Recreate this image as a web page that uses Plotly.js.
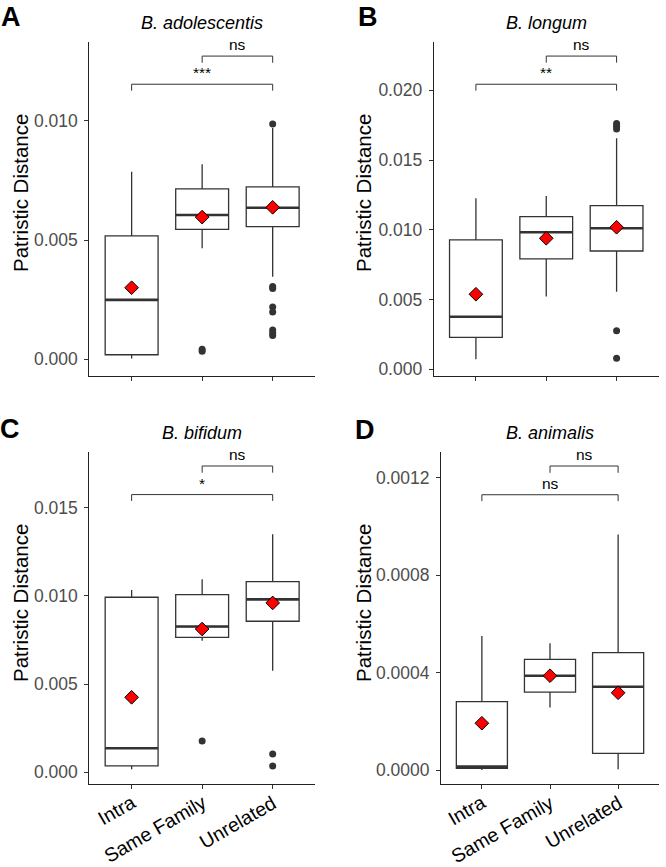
<!DOCTYPE html>
<html><head><meta charset="utf-8">
<script src="https://cdn.plot.ly/plotly-3.0.1.min.js"></script>
<style>html,body{margin:0;padding:0;background:#fff}#chart{width:666px;height:867px}</style>
</head><body><div id="chart"></div>
<script>
const categories = ["Intra", "Same Family", "Unrelated"];
const catPos = [1, 2, 3];
const panelLetters = ["A", "B", "C", "D"];
const species = ["B. adolescentis", "B. longum", "B. bifidum", "B. animalis"];

// Panel A: B. adolescentis
const adoLower  = [0.00003, 0.00465, 0.00346];
const adoQ1     = [0.00019, 0.00545, 0.00556];
const adoMedian = [0.00249, 0.00605, 0.00635];
const adoQ3     = [0.00517, 0.00714, 0.00723];
const adoUpper  = [0.00786, 0.00818, 0.00970];
const adoMean   = [0.00300, 0.00596, 0.00637];
const adoOutGroup = [2, 2, 3, 3, 3, 3, 3, 3, 3, 3];
const adoOutValue = [0.00042, 0.00034, 0.00986, 0.00305, 0.00297, 0.00219, 0.00198, 0.00123, 0.00110, 0.00100];

// Panel B: B. longum
const lonLower  = [0.00072, 0.00521, 0.00556];
const lonQ1     = [0.00229, 0.00791, 0.00848];
const lonMedian = [0.00377, 0.00982, 0.01011];
const lonQ3     = [0.00927, 0.01094, 0.01173];
const lonUpper  = [0.01226, 0.01242, 0.01656];
const lonMean   = [0.00538, 0.00939, 0.01018];
const lonOutGroup = [3, 3, 3, 3, 3];
const lonOutValue = [0.01762, 0.01742, 0.01722, 0.00277, 0.00079];

// Panel C: B. bifidum
const bifLower  = [0.00017, 0.00746, 0.00576];
const bifQ1     = [0.00036, 0.00765, 0.00856];
const bifMedian = [0.00136, 0.00826, 0.00980];
const bifQ3     = [0.00992, 0.01007, 0.01081];
const bifUpper  = [0.01033, 0.01094, 0.01349];
const bifMean   = [0.00425, 0.00812, 0.00960];
const bifOutGroup = [2, 3, 3];
const bifOutValue = [0.00178, 0.00104, 0.00036];

// Panel D: B. animalis
const aniLower  = [0.0000000, 0.000257, 0.0000027];
const aniQ1     = [0.0000068, 0.000320, 0.0000684];
const aniMedian = [0.0000137, 0.000387, 0.000342];
const aniQ3     = [0.000281, 0.000454, 0.000482];
const aniUpper  = [0.000550, 0.000520, 0.000967];
const aniMean   = [0.000192, 0.000387, 0.000317];
const aniOutGroup = [];
const aniOutValue = [];

// Significance brackets: from group, to group, bracket level, tip end, label
const sigFrom  = [[2, 1], [2, 1], [2, 1], [2, 1]];
const sigTo    = [[3, 3], [3, 3], [3, 3], [3, 3]];
const sigLevel = [[0.01271, 0.01153], [0.02245, 0.02043], [0.01736, 0.01574], [0.001248, 0.00113]];
const sigTip   = [[0.01243, 0.01126], [0.02198, 0.01997], [0.01698, 0.01538], [0.001220, 0.001104]];
const sigLabel = [["ns", "***"], ["ns", "**"], ["ns", "*"], ["ns", "ns"]];

const yRanges = [[-0.0007, 0.0133], [-0.00048, 0.02348], [-0.00068, 0.01817], [-0.0000587, 0.0013067]];
const yDtick = [0.005, 0.005, 0.005, 0.0004];
const yFormat = [".3f", ".3f", ".3f", ".4f"];

const panels = [
  {lower: adoLower, q1: adoQ1, med: adoMedian, q3: adoQ3, upper: adoUpper, mean: adoMean, og: adoOutGroup, ov: adoOutValue},
  {lower: lonLower, q1: lonQ1, med: lonMedian, q3: lonQ3, upper: lonUpper, mean: lonMean, og: lonOutGroup, ov: lonOutValue},
  {lower: bifLower, q1: bifQ1, med: bifMedian, q3: bifQ3, upper: bifUpper, mean: bifMean, og: bifOutGroup, ov: bifOutValue},
  {lower: aniLower, q1: aniQ1, med: aniMedian, q3: aniQ3, upper: aniUpper, mean: aniMean, og: aniOutGroup, ov: aniOutValue}
];

const W = 666, H = 867;
// plot area boxes in pixels [left, right, top, bottom]
const boxes = [[89.3, 315, 42, 376], [433.7, 658.8, 41.7, 376], [89.3, 315, 451.7, 784.3], [441, 659, 451.7, 784.3]];
const FONT = "Liberation Sans, Arial, Helvetica, sans-serif";
const boxWidth = 0.75;

const traces = [];
const annotations = [];
const layout = {
  width: W, height: H,
  margin: {l: 0, r: 0, t: 0, b: 0},
  paper_bgcolor: "#fff", plot_bgcolor: "#fff",
  showlegend: false,
  font: {family: FONT},
  annotations: annotations
};

panels.forEach((p, i) => {
  const n = i + 1;
  const xa = n === 1 ? "x" : "x" + n;
  const ya = n === 1 ? "y" : "y" + n;
  const b = boxes[i];
  const xKey = n === 1 ? "xaxis" : "xaxis" + n;
  const yKey = n === 1 ? "yaxis" : "yaxis" + n;
  layout[xKey] = {
    domain: [b[0] / W, b[1] / W], anchor: ya, range: [0.4, 3.6],
    tickvals: catPos, showticklabels: false,
    ticks: "outside", ticklen: 4, tickcolor: "#333", tickwidth: 1,
    showline: true, linecolor: "#222", linewidth: 1, showgrid: false, zeroline: false,
    fixedrange: true
  };
  layout[yKey] = {
    domain: [1 - b[3] / H, 1 - b[2] / H], anchor: xa, range: yRanges[i],
    tick0: 0, dtick: yDtick[i], tickformat: yFormat[i],
    ticks: "outside", ticklen: 4, tickcolor: "#333", tickwidth: 1,
    ticklabelstandoff: 3,
    showline: true, linecolor: "#222", linewidth: 1, showgrid: false, zeroline: false,
    tickfont: {family: FONT, size: 17.5, color: "#4D4D4D"}, fixedrange: true
  };

  // rotated category labels (bottom row only)
  if (i >= 2) {
    categories.forEach((c, k) => {
      annotations.push({xref: xa, yref: "paper", x: catPos[k], y: 1 - 788 / H, xshift: 10,
        text: c, textangle: -30, showarrow: false, xanchor: "right", yanchor: "top",
        font: {family: FONT, size: 19.5, color: "#000"}});
    });
  }

  // box
  traces.push({
    type: "box", x: catPos, q1: p.q1, median: p.med, q3: p.q3,
    lowerfence: p.lower, upperfence: p.upper,
    xaxis: xa, yaxis: ya, width: boxWidth, whiskerwidth: 0,
    boxpoints: false, fillcolor: "#ffffff",
    line: {color: "#333333", width: 1.3}, hoverinfo: "skip"
  });
  // thick median lines
  const mx = [], my = [];
  catPos.forEach((c, k) => { mx.push(c - boxWidth / 2, c + boxWidth / 2, null); my.push(p.med[k], p.med[k], null); });
  traces.push({type: "scatter", mode: "lines", x: mx, y: my, xaxis: xa, yaxis: ya,
    line: {color: "#333333", width: 2.6}, hoverinfo: "skip"});
  // outliers
  if (p.ov.length) {
    traces.push({type: "scatter", mode: "markers", x: p.og, y: p.ov, xaxis: xa, yaxis: ya,
      marker: {color: "#333333", size: 7}, hoverinfo: "skip"});
  }
  // means
  traces.push({type: "scatter", mode: "markers", x: catPos, y: p.mean, xaxis: xa, yaxis: ya,
    marker: {symbol: "diamond", color: "#FF0000", size: 10.5, line: {color: "#000", width: 1}}, hoverinfo: "skip"});
  // significance brackets
  sigLevel[i].forEach((lv, k) => {
    const f = sigFrom[i][k], t = sigTo[i][k], tip = sigTip[i][k];
    traces.push({type: "scatter", mode: "lines", x: [f, f, t, t], y: [tip, lv, lv, tip],
      xaxis: xa, yaxis: ya, line: {color: "#333333", width: 1}, hoverinfo: "skip", cliponaxis: false});
    annotations.push({xref: xa, yref: ya, x: (f + t) / 2, y: lv, text: sigLabel[i][k],
      showarrow: false, yanchor: "bottom", yshift: 1,
      font: {family: FONT, size: 15.5, color: "#000"}});
  });
  // panel title
  annotations.push({xref: "paper", yref: "paper", x: (b[0] + b[1]) / 2 / W, y: 1 - (i < 2 ? 23 : 433) / H,
    text: "<i>" + species[i] + "</i>", showarrow: false, xanchor: "center", yanchor: "middle",
    font: {family: FONT, size: 18, color: "#000"}});
  // panel letter
  const lx = [11, 368, 10, 365][i], ly = [0, 0, 412, 413][i];
  annotations.push({xref: "paper", yref: "paper", x: lx / W, y: 1 - ly / H, text: "<b>" + panelLetters[i] + "</b>",
    showarrow: false, xanchor: "center", yanchor: "top", font: {family: FONT, size: 27, color: "#000"}});
  // y axis title
  const tx = [20, 363, 20, 363][i], ty = [193, 193, 603, 603][i];
  annotations.push({xref: "paper", yref: "paper", x: tx / W, y: 1 - ty / H, text: "Patristic Distance",
    textangle: -90, showarrow: false, xanchor: "center", yanchor: "middle",
    font: {family: FONT, size: 20.5, color: "#000"}});
});

Plotly.newPlot("chart", traces, layout, {staticPlot: true, displayModeBar: false});
</script>
</body></html>
